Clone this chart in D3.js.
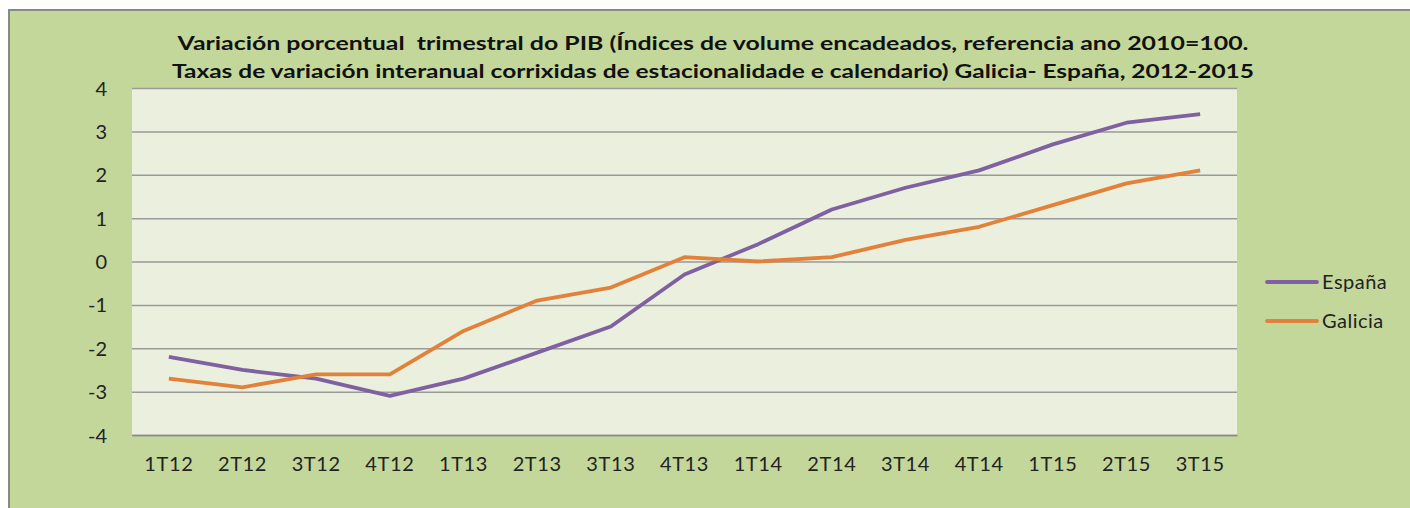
<!DOCTYPE html>
<html>
<head>
<meta charset="utf-8">
<script src="https://cdn.jsdelivr.net/npm/d3@7"></script>
<style>
  html, body { margin: 0; padding: 0; background: #fff; }
  svg { display: block; font-family: Lato, "Open Sans", sans-serif; }
  .title { white-space: pre; }
</style>
</head>
<body>
<div id="chart"></div>
<script>
// quarters shown on the x axis
const quarters = ["1T12", "2T12", "3T12", "4T12", "1T13", "2T13", "3T13", "4T13",
  "1T14", "2T14", "3T14", "4T14", "1T15", "2T15", "3T15"];
const espana = [-2.2, -2.5, -2.7, -3.1, -2.7, -2.1, -1.5, -0.3, 0.4, 1.2, 1.7, 2.1, 2.7, 3.2, 3.4];
const galicia = [-2.7, -2.9, -2.6, -2.6, -1.6, -0.9, -0.6, 0.1, 0.0, 0.1, 0.5, 0.8, 1.3, 1.8, 2.1];
const yTicks = [-4, -3, -2, -1, 0, 1, 2, 3, 4];
const seriesNames = ["España", "Galicia"];
const titleLines = [
  "Variación porcentual  trimestral do PIB (Índices de volume encadeados, referencia ano 2010=100.",
  "Taxas de variación interanual corrixidas de estacionalidade e calendario) Galicia- España, 2012-2015"
];

const W = 1410, H = 508;
const plot = { left: 132, top: 88, right: 1237, bottom: 435 };
const colors = { "España": "#7f60a1", "Galicia": "#e2823a" };

const svg = d3.select("#chart").append("svg")
  .attr("width", W).attr("height", H);

// chart area with border
svg.append("rect")
  .attr("x", 9).attr("y", 10).attr("width", W).attr("height", H)
  .attr("fill", "#c4d79b").attr("stroke", "#888").attr("stroke-width", 2);

// title
const titleWidths = [1071, 1082];
svg.selectAll("text.title").data(titleLines).join("text")
  .attr("class", "title")
  .attr("x", 713)
  .attr("y", (d, i) => 50 + i * 28)
  .attr("text-anchor", "middle")
  .attr("font-size", 19).attr("font-weight", "bold").attr("fill", "#111")
  .attr("textLength", (d, i) => titleWidths[i])
  .attr("lengthAdjust", "spacingAndGlyphs")
  .text(d => d);

const x = d3.scaleBand().domain(quarters).range([plot.left, plot.right]);
const y = d3.scaleLinear().domain([-4, 4]).range([plot.bottom, plot.top]);

svg.append("rect")
  .attr("x", plot.left).attr("y", plot.top)
  .attr("width", plot.right - plot.left).attr("height", plot.bottom - plot.top)
  .attr("fill", "#ebf0de");

// gridlines
svg.append("g")
  .attr("transform", `translate(${plot.left},0)`)
  .call(d3.axisLeft(y).tickValues(yTicks).tickSize(-(plot.right - plot.left)).tickFormat(""))
  .call(g => g.select(".domain").remove())
  .call(g => g.selectAll("line").attr("stroke", "#9a9a9a").attr("stroke-width", 1.5));

// y labels (plain hyphen for negatives, like the source)
svg.append("g")
  .attr("transform", `translate(${plot.left - 18},0)`)
  .call(d3.axisLeft(y).tickValues(yTicks).tickSize(0).tickFormat(d => String(d)))
  .call(g => g.select(".domain").remove())
  .call(g => g.selectAll("text").attr("font-size", 20).attr("fill", "#222")
    .attr("font-family", "Lato, sans-serif").attr("x", -7).attr("dy", "0.35em"));

// x labels
svg.append("g")
  .attr("transform", `translate(0,${plot.bottom})`)
  .call(d3.axisBottom(x).tickSize(0))
  .call(g => g.select(".domain").attr("stroke", "#888").attr("stroke-width", 1.5))
  .call(g => g.selectAll("text").attr("font-size", 20).attr("fill", "#222")
    .attr("font-family", "Lato, sans-serif").attr("y", 29).attr("dy", "0.35em")
    .attr("letter-spacing", 0.6));

const line = d3.line()
  .x((d, i) => x(quarters[i]) + x.bandwidth() / 2)
  .y(d => y(d));

const data = [espana, galicia];
svg.selectAll("path.series").data(data).join("path")
  .attr("class", "series")
  .attr("fill", "none")
  .attr("stroke", (d, i) => colors[seriesNames[i]])
  .attr("stroke-width", 3.8)
  .attr("stroke-linejoin", "round")
  .attr("d", line);

// legend
const legend = svg.append("g").attr("transform", "translate(1267,282)");
seriesNames.forEach((name, i) => {
  const gy = i * 39;
  legend.append("line")
    .attr("x1", 0).attr("x2", 50).attr("y1", gy).attr("y2", gy)
    .attr("stroke", colors[name]).attr("stroke-width", 3.8).attr("stroke-linecap", "round");
  legend.append("text")
    .attr("x", 55).attr("y", gy).attr("dy", "0.35em")
    .attr("font-size", 20).attr("fill", "#222").attr("letter-spacing", 0.5)
    .text(name);
});
</script>
</body>
</html>
